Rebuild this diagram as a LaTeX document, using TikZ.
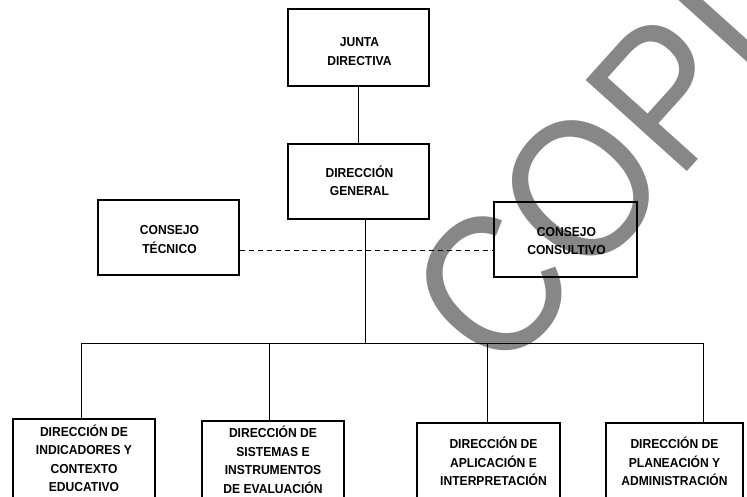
\documentclass[tikz,border=0pt]{standalone}
\usepackage{fontspec}
\setmainfont{Liberation Sans}[FakeStretch=0.93]
\newfontfamily\wmfont{Liberation Sans}[FakeStretch=0.9]
\definecolor{wmgray}{RGB}{135,135,135}
\newcommand{\boxtext}[3]{\hspace*{#1}\raisebox{-#2}[\height][\depth]{\begin{tabular}{@{}c@{}}#3\end{tabular}}}
\begin{document}
\begin{tikzpicture}[x=1pt,y=-1pt,
  box/.style={draw, line width=1.6pt, inner sep=0pt,
    font=\fontsize{13}{18.5}\selectfont\bfseries},
  link/.style={line width=0.8pt},
  dashlink/.style={line width=0.8pt, dash pattern=on 5pt off 4pt}]
\useasboundingbox (0,0) rectangle (747,496);
\clip (0,0) rectangle (747,496);
% watermark
\node[rotate=48, anchor=base west, inner sep=0pt, text=wmgray,
  font=\wmfont\fontsize{198}{198}\selectfont] (wm) at (499,381) {COPIA};
% boxes
\node[box, minimum width=141pt, minimum height=77pt] (junta) at (358.5,47.5) {\boxtext{2pt}{5pt}{JUNTA\\DIRECTIVA}};
\node[box, minimum width=141pt, minimum height=75pt] (general) at (358.5,181.5) {\boxtext{2pt}{1.5pt}{DIRECCIÓN\\GENERAL}};
\node[box, minimum width=141pt, minimum height=75pt] (tecnico) at (168.5,237.5) {\boxtext{2pt}{3pt}{CONSEJO\\TÉCNICO}};
\node[box, minimum width=143pt, minimum height=75pt] (consultivo) at (565.5,239.5) {\boxtext{2pt}{2.5pt}{CONSEJO\\CONSULTIVO}};
\node[box, minimum width=142pt, minimum height=83pt] (b1) at (84,460.5) {\boxtext{0pt}{0pt}{DIRECCIÓN DE\\INDICADORES Y\\CONTEXTO\\EDUCATIVO}};
\node[box, minimum width=142pt, minimum height=82pt] (b2) at (273,462) {\boxtext{0pt}{0pt}{DIRECCIÓN DE\\SISTEMAS E\\INSTRUMENTOS\\DE EVALUACIÓN}};
\node[box, minimum width=143pt, minimum height=81pt] (b3) at (488.5,463.5) {\boxtext{10pt}{0pt}{DIRECCIÓN DE\\APLICACIÓN E\\INTERPRETACIÓN}};
\node[box, minimum width=137pt, minimum height=81pt] (b4) at (674.5,463.5) {\boxtext{0pt}{0pt}{DIRECCIÓN DE\\PLANEACIÓN Y\\ADMINISTRACIÓN}};
% connectors
\coordinate (hub) at (365,343);
\coordinate (busL) at (81,343);
\coordinate (d2) at (269,343);
\coordinate (d3) at (487,343);
\coordinate (busR) at (703,343);
\draw[link] (junta.south) -- (general.north);
\draw[link] ([xshift=6.5pt]general.south) -- (hub);
\draw[link] (busL) -- (busR);
\draw[link] (busL) -- (busL |- b1.north);
\draw[link] (d2) -- (d2 |- b2.north);
\draw[link] (d3) -- (d3 |- b3.north);
\draw[link] (busR) -- (busR |- b4.north);
\draw[dashlink] ([yshift=-12.5pt]tecnico.east) -- ([yshift=-10.5pt]consultivo.west);
\end{tikzpicture}
\end{document}
